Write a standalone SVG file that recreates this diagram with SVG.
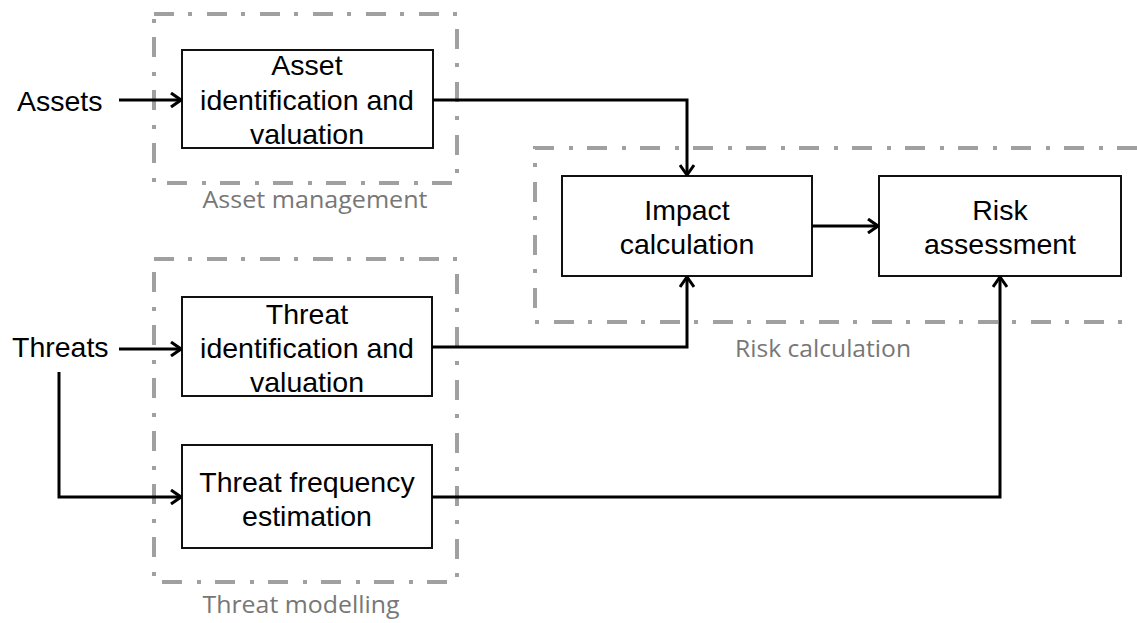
<svg xmlns="http://www.w3.org/2000/svg" width="1137" height="623" viewBox="0 0 1137 623">
  <defs>
    <marker id="arrow" viewBox="0 0 12 16" refX="11" refY="8" markerWidth="12" markerHeight="16" markerUnits="userSpaceOnUse" orient="auto">
      <path d="M1,1 L11,8 L1,15" fill="none" stroke="#000" stroke-width="3" stroke-linejoin="miter"/>
    </marker>
  </defs>
  <style>
    .box { fill: #fff; stroke: #111; stroke-width: 2; }
    .txt { font-family: "Liberation Sans", Arial, sans-serif; font-size: 28.5px; fill: #000; text-anchor: middle; }
    .in { font-family: "Liberation Sans", Arial, sans-serif; font-size: 28.5px; fill: #000; }
    .group { fill: none; stroke: #a0a0a0; stroke-width: 4; stroke-dasharray: 20 14 4 15; }
    .glabel { font-family: "Open Sans", "Liberation Sans", sans-serif; font-size: 24px; fill: #777; text-anchor: middle; }
    .conn { fill: none; stroke: #000; stroke-width: 3; }
  </style>
  <rect width="1137" height="623" fill="#fff"/>

  <!-- grouping frames -->
  <g id="asset-management">
    <rect class="group" x="154" y="14" width="303" height="169"/>
    <text class="glabel" x="315" y="208" textLength="225" lengthAdjust="spacingAndGlyphs">Asset management</text>
  </g>
  <g id="threat-modelling">
    <rect class="group" x="154" y="259" width="303" height="323"/>
    <text class="glabel" x="301" y="613" textLength="197" lengthAdjust="spacingAndGlyphs">Threat modelling</text>
  </g>
  <g id="risk-calculation">
    <path class="group" d="M1137,148 H535 V322 H1137"/>
    <text class="glabel" x="823" y="357" textLength="176" lengthAdjust="spacingAndGlyphs">Risk calculation</text>
  </g>

  <!-- inputs -->
  <g id="assets">
    <text class="in" x="17" y="111">Assets</text>
  </g>
  <g id="threats">
    <text class="in" x="12" y="357">Threats</text>
  </g>

  <!-- process nodes -->
  <g id="asset-identification">
    <rect class="box" x="182" y="50" width="251" height="98"/>
    <text class="txt" x="307" y="75">Asset</text>
    <text class="txt" x="307" y="110">identification and</text>
    <text class="txt" x="307" y="144">valuation</text>
  </g>
  <g id="threat-identification">
    <rect class="box" x="182" y="297" width="250" height="99"/>
    <text class="txt" x="307" y="324">Threat</text>
    <text class="txt" x="307" y="358">identification and</text>
    <text class="txt" x="307" y="392">valuation</text>
  </g>
  <g id="threat-frequency">
    <rect class="box" x="182" y="445" width="250" height="103"/>
    <text class="txt" x="307" y="492">Threat frequency</text>
    <text class="txt" x="307" y="526">estimation</text>
  </g>
  <g id="impact-calculation">
    <rect class="box" x="562" y="176" width="250" height="100"/>
    <text class="txt" x="687" y="220">Impact</text>
    <text class="txt" x="687" y="254">calculation</text>
  </g>
  <g id="risk-assessment">
    <rect class="box" x="879" y="176" width="242" height="100"/>
    <text class="txt" x="1000" y="220">Risk</text>
    <text class="txt" x="1000" y="254">assessment</text>
  </g>

  <!-- connectors -->
  <g id="connectors">
    <path class="conn" d="M119,100 H181" marker-end="url(#arrow)"/>
    <path class="conn" d="M433,100 H687 V175" marker-end="url(#arrow)"/>
    <path class="conn" d="M119,349 H181" marker-end="url(#arrow)"/>
    <path class="conn" d="M432,347 H687 V277" marker-end="url(#arrow)"/>
    <path class="conn" d="M59,372 V497 H181" marker-end="url(#arrow)"/>
    <path class="conn" d="M432,497 H1000 V277" marker-end="url(#arrow)"/>
    <path class="conn" d="M812,226 H878" marker-end="url(#arrow)"/>
  </g>
</svg>
